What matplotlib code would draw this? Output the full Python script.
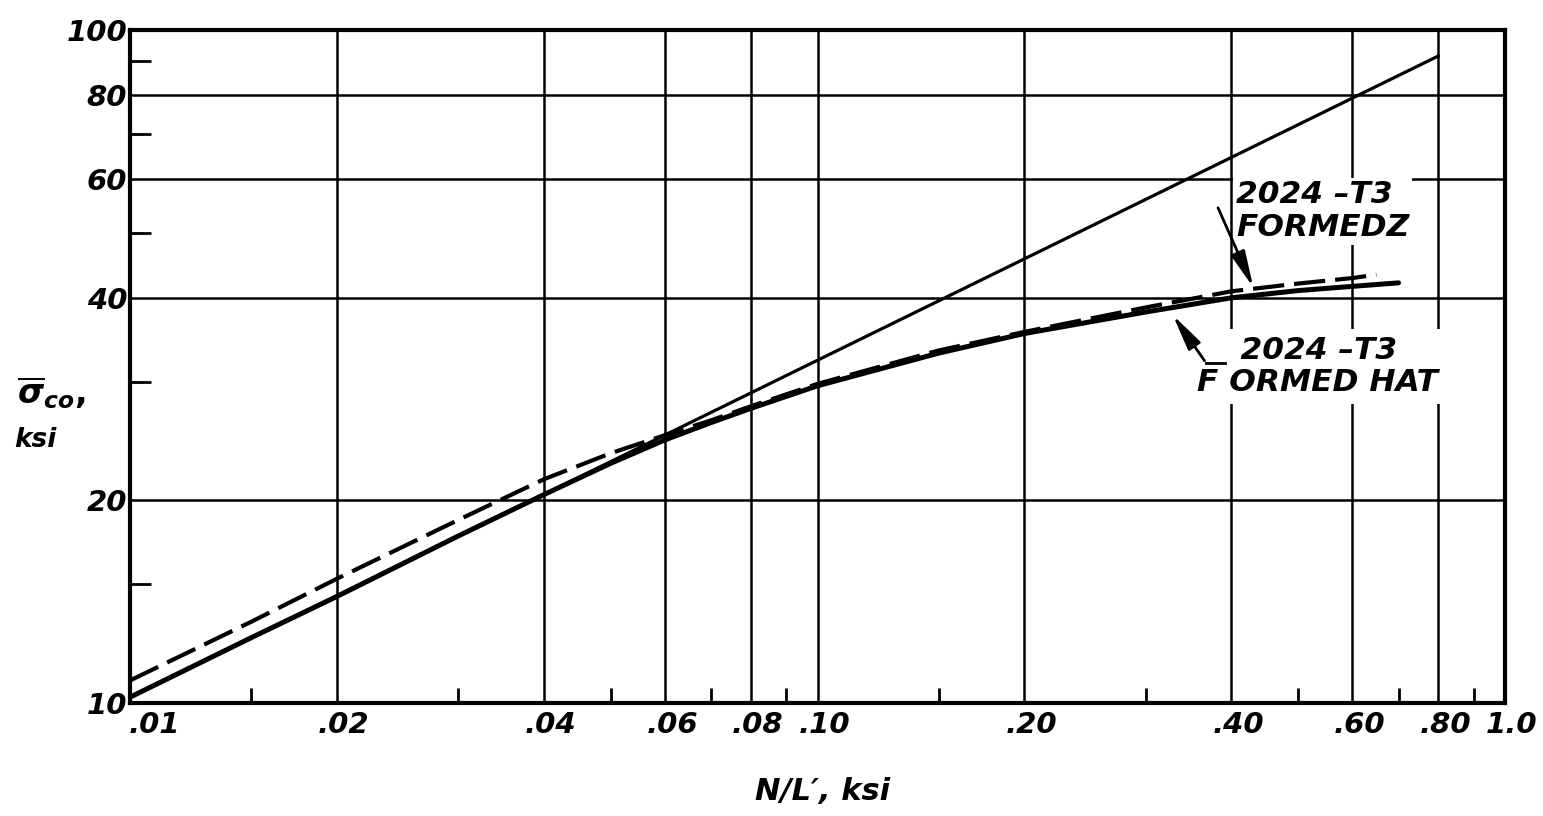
import matplotlib
matplotlib.use("Agg")
import matplotlib.pyplot as plt
from matplotlib.transforms import ScaledTranslation

plt.rcParams['font.family'] = ['DejaVu Sans']
plt.rcParams['mathtext.fontset'] = 'custom'
plt.rcParams['mathtext.rm'] = 'DejaVu Sans:bold'
plt.rcParams['mathtext.it'] = 'DejaVu Sans:italic:bold'
plt.rcParams['mathtext.bf'] = 'DejaVu Sans:italic:bold'

# ---------------- data ----------------
# theoretical straight line
line_x = [0.01, 0.80]
line_y = [10.2, 91.5]

# 2024-T3 formed hat (solid)
hat_x = [0.01, 0.015, 0.02, 0.03, 0.04, 0.05, 0.06, 0.07, 0.08, 0.10,
         0.15, 0.20, 0.30, 0.40, 0.50, 0.60, 0.70]
hat_y = [10.2, 12.5, 14.4, 17.7, 20.4, 22.7, 24.6, 26.1, 27.4, 29.6,
         33.1, 35.4, 38.1, 40.0, 41.0, 41.6, 42.1]

# 2024-T3 formed Z (dashed)
z_x = [0.01, 0.015, 0.02, 0.03, 0.04, 0.05, 0.06, 0.07, 0.08, 0.10,
       0.15, 0.20, 0.30, 0.40, 0.50, 0.60, 0.65]
z_y = [10.8, 13.2, 15.3, 18.7, 21.5, 23.5, 25.0, 26.3, 27.6, 29.8,
       33.4, 35.6, 38.7, 40.9, 42.0, 42.8, 43.3]

x_major = [0.01, 0.02, 0.04, 0.06, 0.08, 0.10, 0.20, 0.40, 0.60, 0.80, 1.0]
x_major_labels = ['.01', '.02', '.04', '.06', '.08', '.10', '.20', '.40', '.60', '.80', '1.0']
x_minor = [0.015, 0.03, 0.05, 0.07, 0.09, 0.15, 0.30, 0.50, 0.70, 0.90]
y_major = [10, 20, 40, 60, 80, 100]
y_major_labels = ['10', '20', '40', '60', '80', '100']
y_minor = [15, 30, 50, 70, 90]

# ---------------- figure ----------------
fig = plt.figure(figsize=(15.43, 8.16), dpi=100)
ax = fig.add_axes([130 / 1543, 1 - 703 / 816, (1505 - 130) / 1543, (703 - 30) / 816])
ax.set_xscale('log')
ax.set_yscale('log')
ax.set_xlim(0.01, 1.0)
ax.set_ylim(10, 100)

ax.set_xticks(x_major)
ax.set_xticklabels(x_major_labels)
ax.set_xticks(x_minor, minor=True)
ax.set_xticklabels([], minor=True)
ax.set_yticks(y_major)
ax.set_yticklabels(y_major_labels)
ax.set_yticks(y_minor, minor=True)
ax.set_yticklabels([], minor=True)

ax.tick_params(which='major', length=0, labelsize=21)
ax.tick_params(axis='x', which='major', pad=6)
ax.tick_params(axis='y', which='major', pad=2)
ax.tick_params(axis='x', which='minor', direction='in', length=11, width=2, color='black')
ax.tick_params(axis='y', which='minor', direction='in', length=15, width=2, color='black')
for lab in ax.get_xticklabels() + ax.get_yticklabels():
    lab.set_fontweight('bold')
    lab.set_fontstyle('italic')
xlabs = ax.get_xticklabels()
for i, lab in enumerate(xlabs):
    if i == 0:
        lab.set_horizontalalignment('left')
        lab.set_transform(lab.get_transform() + ScaledTranslation(-1 / 100, 0, fig.dpi_scale_trans))
    else:
        lab.set_transform(lab.get_transform() + ScaledTranslation(7 / 100, 0, fig.dpi_scale_trans))

ax.grid(True, which='major', color='black', linewidth=1.8)
for s in ax.spines.values():
    s.set_linewidth(3.0)

ax.plot(line_x, line_y, color='black', linewidth=2.3, solid_capstyle='round', zorder=3)
ax.plot(hat_x, hat_y, color='black', linewidth=3.6, solid_capstyle='round', zorder=3)
ax.plot(z_x, z_y, color='black', linewidth=3.0, dashes=(7.5, 2.4), zorder=3)

# annotations
ax.text(0.4065, 53.8, '2024 \u2013T3\nFORMEDZ', fontsize=22.5, fontweight='bold',
        fontstyle='italic', ha='left', va='center', linespacing=1.15, zorder=4,
        bbox=dict(facecolor='white', edgecolor='none', pad=2))
ax.annotate('', xy=(0.432, 41.1), xytext=(0.381, 54.9),
            arrowprops=dict(arrowstyle='-|>,head_length=1.1,head_width=0.22',
                            lw=2, color='black', mutation_scale=20), zorder=5)

ax.text(0.3566, 31.6, '    2024 \u2013T3\nF ORMED HAT', fontsize=22.5, fontweight='bold',
        fontstyle='italic', ha='left', va='center', linespacing=1.15, zorder=4,
        bbox=dict(facecolor='white', edgecolor='none', pad=5))
ax.plot([0.3675, 0.391], [32.0, 32.0], color='black', linewidth=2, zorder=5)
ax.annotate('', xy=(0.327, 38.0), xytext=(0.3675, 32.0),
            arrowprops=dict(arrowstyle='-|>,head_length=1.1,head_width=0.22',
                            lw=2, color='black', mutation_scale=20), zorder=5)

# axis labels
fig.text(17 / 1543, 1 - 393 / 816, r'$\overline{\sigma}_{co},$', fontsize=24,
         ha='left', va='center')
fig.text(14 / 1543, 1 - 440 / 816, 'ksi', fontsize=19, fontweight='bold',
         fontstyle='italic', ha='left', va='center')
fig.text(823 / 1543, 1 - 792 / 816, 'N/L\u2032, ksi', fontsize=22, fontweight='bold',
         fontstyle='italic', ha='center', va='center')

fig.savefig('out.png', dpi=100)
